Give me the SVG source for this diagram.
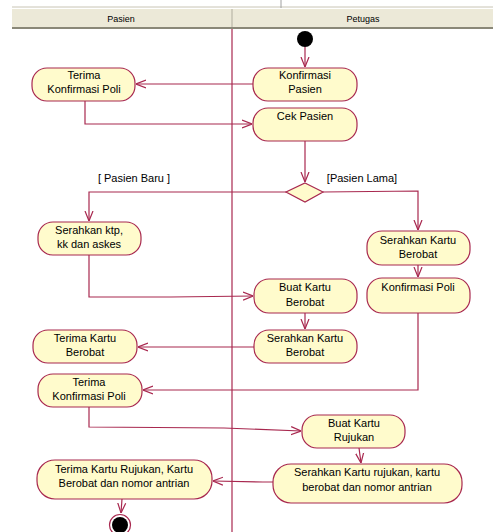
<svg xmlns="http://www.w3.org/2000/svg" width="493" height="532" viewBox="0 0 493 532">
<defs>
<style>
.act{fill:#FFFBCC;stroke:#A8284F;stroke-width:1.2}
.t{font-family:"Liberation Sans",Arial,sans-serif;font-size:11px;fill:#000;text-anchor:middle}
.h{font-family:"Liberation Sans",Arial,sans-serif;font-size:9px;fill:#000;text-anchor:middle}
.c{fill:none;stroke:#A8284F;stroke-width:1.2}
</style>
<marker id="a" viewBox="0 0 10 10" refX="10" refY="5" markerWidth="10" markerHeight="10" markerUnits="userSpaceOnUse" orient="auto">
<path d="M0,1 L10,5 L0,9" fill="none" stroke="#A8284F" stroke-width="1.2"/>
</marker>
</defs>
<rect x="0" y="0" width="493" height="532" fill="#fff"/>
<g id="header">
<line x1="12" y1="7" x2="493" y2="7" stroke="#c8c4b4" stroke-width="1"/>
<line x1="281" y1="0" x2="281" y2="8" stroke="#a0a0a0"/>
<rect x="12" y="9" width="481" height="18" fill="#ECE9D8"/>
<rect x="12" y="27" width="481" height="2" fill="#8a8878"/>
<line x1="232" y1="9" x2="232" y2="27" stroke="#b0ad9e"/>
<text class="h" x="121" y="22">Pasien</text>
<text class="h" x="363" y="22">Petugas</text>
</g>
<line x1="232" y1="29" x2="232" y2="532" stroke="#A8284F" stroke-width="1.2"/>
<g id="connectors">
<line class="c" x1="305" y1="47" x2="305" y2="67" marker-end="url(#a)"/>
<line class="c" x1="253" y1="84" x2="136" y2="84" marker-end="url(#a)"/>
<polyline class="c" points="85,101 85,124 252,124" marker-end="url(#a)"/>
<line class="c" x1="305" y1="141" x2="305" y2="182" marker-end="url(#a)"/>
<polyline class="c" points="286,192 89,192 89,221" marker-end="url(#a)"/>
<polyline class="c" points="323,192 418,191 418,230" marker-end="url(#a)"/>
<line class="c" x1="418" y1="265" x2="418" y2="277" marker-end="url(#a)"/>
<polyline class="c" points="89,255 89,297 171,297 253,296" marker-end="url(#a)"/>
<line class="c" x1="305" y1="313" x2="305" y2="329" marker-end="url(#a)"/>
<line class="c" x1="254" y1="347" x2="138" y2="347" marker-end="url(#a)"/>
<polyline class="c" points="418,313 418,390 143,390" marker-end="url(#a)"/>
<polyline class="c" points="89,407 89,427 224,428 301,431" marker-end="url(#a)"/>
<line class="c" x1="359" y1="448" x2="361" y2="463" marker-end="url(#a)"/>
<polyline class="c" points="282,482 263,482 213,481" marker-end="url(#a)"/>
<line class="c" x1="122" y1="499" x2="121" y2="513" marker-end="url(#a)"/>
</g>
<g id="start"><circle cx="305" cy="39" r="8" fill="#000"/></g>
<g id="konfirmasi-pasien">
<rect class="act" x="253" y="68" width="104" height="33" rx="15" ry="15"/>
<text class="t" x="305" y="79">Konfirmasi</text>
<text class="t" x="305" y="93">Pasien</text>
</g>
<g id="terima-konfirmasi-poli-1">
<rect class="act" x="32" y="68" width="103" height="33" rx="15" ry="15"/>
<text class="t" x="84" y="79">Terima</text>
<text class="t" x="84" y="93">Konfirmasi Poli</text>
</g>
<g id="cek-pasien">
<rect class="act" x="253" y="108" width="104" height="33" rx="15" ry="15"/>
<text class="t" x="305" y="120">Cek Pasien</text>
</g>
<g id="decision">
<polygon points="305,183 323,192 305,202 286,192" fill="#FFFBCC" stroke="#A8284F" stroke-width="1.2"/>
</g>
<g id="guards">
<text class="t" x="134" y="182">[ Pasien Baru ]</text>
<text class="t" x="362" y="182">[Pasien Lama]</text>
</g>
<g id="serahkan-ktp">
<rect class="act" x="38" y="222" width="103" height="33" rx="15" ry="15"/>
<text class="t" x="89" y="234">Serahkan ktp,</text>
<text class="t" x="89" y="248">kk dan askes</text>
</g>
<g id="serahkan-kartu-berobat-lama">
<rect class="act" x="367" y="231" width="103" height="34" rx="15" ry="15"/>
<text class="t" x="418" y="244">Serahkan Kartu</text>
<text class="t" x="418" y="258">Berobat</text>
</g>
<g id="konfirmasi-poli">
<rect class="act" x="367" y="278" width="103" height="35" rx="15" ry="15"/>
<text class="t" x="418" y="291">Konfirmasi Poli</text>
</g>
<g id="buat-kartu-berobat">
<rect class="act" x="254" y="279" width="103" height="34" rx="15" ry="15"/>
<text class="t" x="305" y="291">Buat Kartu</text>
<text class="t" x="305" y="306">Berobat</text>
</g>
<g id="serahkan-kartu-berobat">
<rect class="act" x="254" y="330" width="103" height="33" rx="15" ry="15"/>
<text class="t" x="305" y="342">Serahkan Kartu</text>
<text class="t" x="305" y="356">Berobat</text>
</g>
<g id="terima-kartu-berobat">
<rect class="act" x="33" y="330" width="104" height="33" rx="15" ry="15"/>
<text class="t" x="85" y="342">Terima Kartu</text>
<text class="t" x="85" y="356">Berobat</text>
</g>
<g id="terima-konfirmasi-poli-2">
<rect class="act" x="38" y="374" width="104" height="33" rx="15" ry="15"/>
<text class="t" x="89" y="386">Terima</text>
<text class="t" x="89" y="400">Konfirmasi Poli</text>
</g>
<g id="buat-kartu-rujukan">
<rect class="act" x="302" y="415" width="103" height="33" rx="15" ry="15"/>
<text class="t" x="354" y="427">Buat Kartu</text>
<text class="t" x="354" y="441">Rujukan</text>
</g>
<g id="serahkan-kartu-rujukan">
<rect class="act" x="273" y="464" width="189" height="39" rx="18" ry="18"/>
<text class="t" x="367" y="476">Serahkan Kartu rujukan, kartu</text>
<text class="t" x="367" y="491">berobat dan nomor antrian</text>
</g>
<g id="terima-kartu-rujukan">
<rect class="act" x="37" y="460" width="175" height="39" rx="18" ry="18"/>
<text class="t" x="124" y="473">Terima Kartu Rujukan, Kartu</text>
<text class="t" x="124" y="487">Berobat dan nomor antrian</text>
</g>
<g id="end">
<circle cx="120" cy="525" r="10.5" fill="#fff" stroke="#A8284F" stroke-width="1.2"/>
<circle cx="120" cy="525" r="8" fill="#000"/>
</g>
</svg>
